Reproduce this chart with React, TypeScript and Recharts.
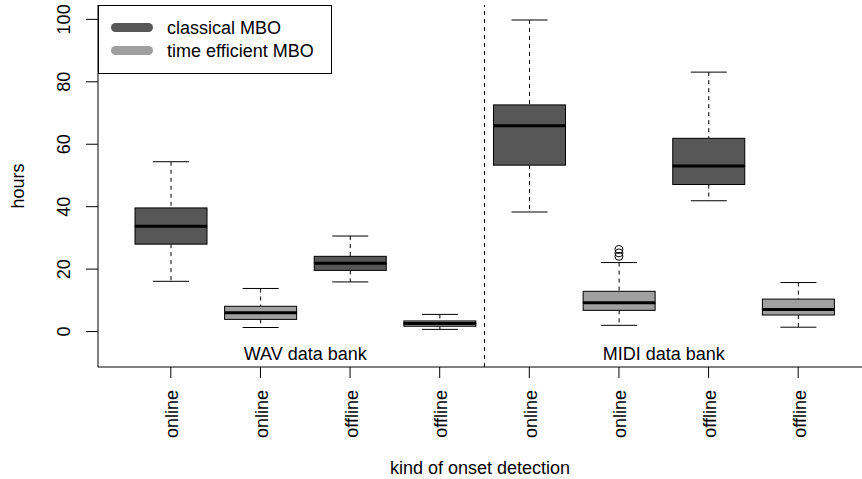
import React from 'react';
import {
  ComposedChart,
  Bar,
  Scatter,
  XAxis,
  YAxis,
  ReferenceLine,
  ReferenceArea,
} from 'recharts';

// one entry per box, left to right
const detectionKinds = ['online', 'online', 'offline', 'offline', 'online', 'online', 'offline', 'offline'];
const methods = ['classical', 'efficient', 'classical', 'efficient', 'classical', 'efficient', 'classical', 'efficient'];
const lowerWhisker = [16.1, 1.3, 15.9, 0.7, 38.3, 2.0, 41.9, 1.4];
const lowerQuartile = [28.0, 3.9, 19.6, 1.7, 53.3, 6.8, 47.1, 5.3];
const medians = [33.7, 6.0, 21.9, 2.6, 65.9, 9.2, 53.0, 7.1];
const upperQuartile = [39.6, 8.1, 24.1, 3.4, 72.6, 12.9, 61.9, 10.4];
const upperWhisker = [54.4, 13.8, 30.6, 5.5, 99.8, 22.1, 83.1, 15.7];

const outlierBox = ['6', '6', '6'];
const outlierValues = [24.1, 25.2, 26.3];

const yTicks = [0, 20, 40, 60, 80, 100];
const dataBanks = ['WAV data bank', 'MIDI data bank'];
const legendLabels = ['classical MBO', 'time efficient MBO'];

const FILL: Record<string, string> = {
  classical: '#575757',
  efficient: '#a0a0a0',
};
const FONT = '"Liberation Sans", Arial, Helvetica, sans-serif';

const rows = detectionKinds.map((kind, i) => ({
  id: String(i + 1),
  kind,
  method: methods[i],
  base: lowerWhisker[i],
  lw: lowerQuartile[i] - lowerWhisker[i],
  lb: medians[i] - lowerQuartile[i],
  ub: upperQuartile[i] - medians[i],
  uw: upperWhisker[i] - upperQuartile[i],
}));

const outliers = outlierBox.map((id, i) => ({ id, v: outlierValues[i] }));

function LowerWhisker(props: any) {
  const { x, y, width, height } = props;
  const cx = x + width / 2;
  return (
    <g>
      <line x1={cx} x2={cx} y1={y} y2={y + height} stroke="#000" strokeDasharray="4 4" />
      <line x1={cx - width / 4} x2={cx + width / 4} y1={y + height} y2={y + height} stroke="#000" />
    </g>
  );
}

function UpperWhisker(props: any) {
  const { x, y, width, height } = props;
  const cx = x + width / 2;
  return (
    <g>
      <line x1={cx} x2={cx} y1={y} y2={y + height} stroke="#000" strokeDasharray="4 4" />
      <line x1={cx - width / 4} x2={cx + width / 4} y1={y} y2={y} stroke="#000" />
    </g>
  );
}

function LowerBox(props: any) {
  const { x, y, width, height, payload } = props;
  return <rect x={x} y={y} width={width} height={height} fill={FILL[payload.method]} stroke="#000" />;
}

function UpperBox(props: any) {
  const { x, y, width, height, payload } = props;
  return (
    <g>
      <rect x={x} y={y} width={width} height={height} fill={FILL[payload.method]} stroke="#000" />
      <line x1={x} x2={x + width} y1={y + height} y2={y + height} stroke="#000" strokeWidth={3} />
    </g>
  );
}

function XTick({ x, y, payload }: any) {
  const label = detectionKinds[Number(payload.value) - 1];
  const bx = x + 7.5;
  const by = y + 10;
  return (
    <text x={bx} y={by} transform={`rotate(-90, ${bx}, ${by})`} textAnchor="end" fontFamily={FONT} fontSize={18} fill="#000">
      {label}
    </text>
  );
}

function YTick({ x, y, payload }: any) {
  const bx = x - 16;
  return (
    <text x={bx} y={y} transform={`rotate(-90, ${bx}, ${y})`} textAnchor="middle" fontFamily={FONT} fontSize={18} fill="#000">
      {payload.value}
    </text>
  );
}

function Outlier({ cx, cy }: any) {
  if (!Number.isFinite(cx) || !Number.isFinite(cy)) return null;
  return <circle cx={cx} cy={cy} r={4} fill="none" stroke="#000" />;
}

function BoxLegend() {
  return (
    <div
      style={{
        position: 'absolute',
        left: 98,
        top: 5,
        width: 234,
        height: 69,
        boxSizing: 'border-box',
        border: '1px solid #000',
        background: '#fff',
        fontFamily: FONT,
        fontSize: 18,
      }}
    >
      {legendLabels.map((label, i) => (
        <div key={label}>
          <div
            style={{
              position: 'absolute',
              left: 12,
              top: 17 + i * 23,
              width: 42,
              height: 9,
              borderRadius: 4.5,
              background: FILL[i === 0 ? 'classical' : 'efficient'],
            }}
          />
          <div style={{ position: 'absolute', left: 68, top: 12 + i * 23, lineHeight: '20px', whiteSpace: 'nowrap', color: '#000' }}>
            {label}
          </div>
        </div>
      ))}
    </div>
  );
}

export default function App() {
  return (
    <div style={{ position: 'fixed', left: 0, top: 0, width: 862, height: 479, background: '#fff', overflow: 'hidden' }}>
      <ComposedChart width={862} height={479} data={rows} margin={{ top: 5, right: 0, bottom: 0, left: 0 }}>
        <XAxis
          xAxisId="top"
          orientation="top"
          dataKey="id"
          height={0}
          tick={false}
          tickLine={false}
          axisLine={{ stroke: '#000' }}
          allowDuplicatedCategory={false}
          padding={{ left: 28, right: 19 }}
        />
        <XAxis
          dataKey="id"
          type="category"
          allowDuplicatedCategory={false}
          padding={{ left: 28, right: 19 }}
          height={112}
          tickSize={11}
          tickLine={{ stroke: '#000' }}
          axisLine={{ stroke: '#000' }}
          tick={<XTick />}
          interval={0}
          label={{
            content: ({ viewBox }: any) => (
              <text
                x={viewBox.x + viewBox.width / 2}
                y={viewBox.y + 107}
                textAnchor="middle"
                fontFamily={FONT}
                fontSize={18}
                fill="#000"
              >
                kind of onset detection
              </text>
            ),
          }}
        />
        <YAxis
          type="number"
          domain={[-11.35, 104.6]}
          allowDataOverflow
          ticks={yTicks}
          width={98}
          tickSize={12}
          tickMargin={0}
          tickLine={{ stroke: '#000' }}
          axisLine={{ stroke: '#000' }}
          tick={<YTick />}
          label={{
            content: ({ viewBox }: any) => {
              const lx = viewBox.x + 24;
              const ly = viewBox.y + viewBox.height / 2;
              return (
                <text x={lx} y={ly} transform={`rotate(-90, ${lx}, ${ly})`} textAnchor="middle" fontFamily={FONT} fontSize={18} fill="#000">
                  hours
                </text>
              );
            },
          }}
        />
        <ReferenceArea
          x1="1"
          x2="4"
          fill="none"
          stroke="none"
          label={{ value: dataBanks[0], position: 'insideBottom', offset: 7, fontFamily: FONT, fontSize: 18, fill: '#000' }}
        />
        <ReferenceArea
          x1="5"
          x2="8"
          fill="none"
          stroke="none"
          label={{ value: dataBanks[1], position: 'insideBottom', offset: 7, fontFamily: FONT, fontSize: 18, fill: '#000' }}
        />
        <ReferenceLine x="4" position="end" stroke="#000" strokeDasharray="4 4" />
        <Bar dataKey="base" stackId="box" barSize={72} fill="none" isAnimationActive={false} />
        <Bar dataKey="lw" stackId="box" barSize={72} shape={<LowerWhisker />} isAnimationActive={false} />
        <Bar dataKey="lb" stackId="box" barSize={72} shape={<LowerBox />} isAnimationActive={false} />
        <Bar dataKey="ub" stackId="box" barSize={72} shape={<UpperBox />} isAnimationActive={false} />
        <Bar dataKey="uw" stackId="box" barSize={72} shape={<UpperWhisker />} isAnimationActive={false} />
        <Scatter data={outliers} dataKey="v" shape={<Outlier />} isAnimationActive={false} />
      </ComposedChart>
      <BoxLegend />
    </div>
  );
}
